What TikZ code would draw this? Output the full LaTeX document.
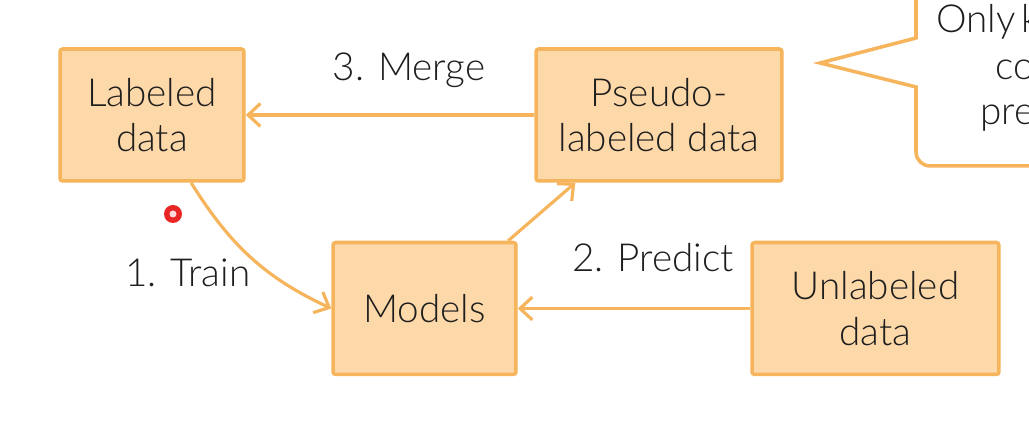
\documentclass[tikz,border=0pt]{standalone}
\usepackage{fontspec}
\setmainfont{Lato}[UprightFont=* Light]
\usepackage{xcolor}
\usetikzlibrary{arrows.meta, positioning}
\definecolor{boxfill}{RGB}{253, 216, 168}
\definecolor{boxline}{RGB}{246, 180, 92}
\definecolor{textgray}{RGB}{30, 30, 30}
\newcommand{\mainsize}{\fontsize{22}{26}\selectfont}

\begin{document}
\begin{tikzpicture}[
    x=0.02cm, y=-0.02cm,
    box/.style={draw=boxline, line width=2pt, fill=boxfill, rounded corners=1.5pt,
                minimum height=2.64cm, align=center, font=\mainsize, text=textgray},
    flow/.style={draw=boxline, line width=1.8pt,
                 -{Straight Barb[length=7pt, width=13pt, line width=1.8pt]}},
    lbl/.style={font=\mainsize, text=textgray}
]
    \useasboundingbox (0,0) rectangle (1029,421);

    % the four boxes
    \node[box, minimum width=3.68cm] (lab) at (152,115) {Labeled\\data};
    \node[box, minimum width=4.92cm] (pl) at (659,115) {Pseudo-\\labeled data};
    \node[box, minimum width=3.66cm] (mod) at (424.5,308.5) {Models};
    \node[box, minimum width=4.94cm] (ul) at (875.5,308.5) {Unlabeled\\data};

    % connectors
    \draw[flow] (pl.west) -- (lab.east);
    \draw[flow] (lab.-60) to[out=-58, in=155] (mod.west);
    \draw[flow] (mod.39) -- (pl.219);
    \draw[flow] (ul.west) -- (mod.east);

    \node[lbl, anchor=base] (merge) at (409,81) {3. Merge};
    \node[lbl, anchor=base] (train) at (188,287) {1. Train};
    \node[lbl, anchor=base] (predict) at (653,272) {2. Predict};

    % callout, cut off at the right
    \draw[boxline, line width=2pt, fill=white, line join=miter]
        (916,-10) -- (916,38) -- (820,63) -- (916,87)
        [rounded corners=8pt] -- (916,166) -- (1040,166);
    \node[lbl, inner sep=0pt, anchor=base west] (note1) at (936,33) {Only\hspace{0.14em}k};
    \node[lbl, inner sep=0pt, anchor=base west] (note2) at (995,80) {co};
    \node[lbl, inner sep=0pt, anchor=base west] (note3) at (980,125) {pre};

    % pointer dot
    \fill[red!90!black, opacity=0.85] (173,214) circle (9);
    \fill[red!15!white] (173,214) circle (3.5);
\end{tikzpicture}
\end{document}
